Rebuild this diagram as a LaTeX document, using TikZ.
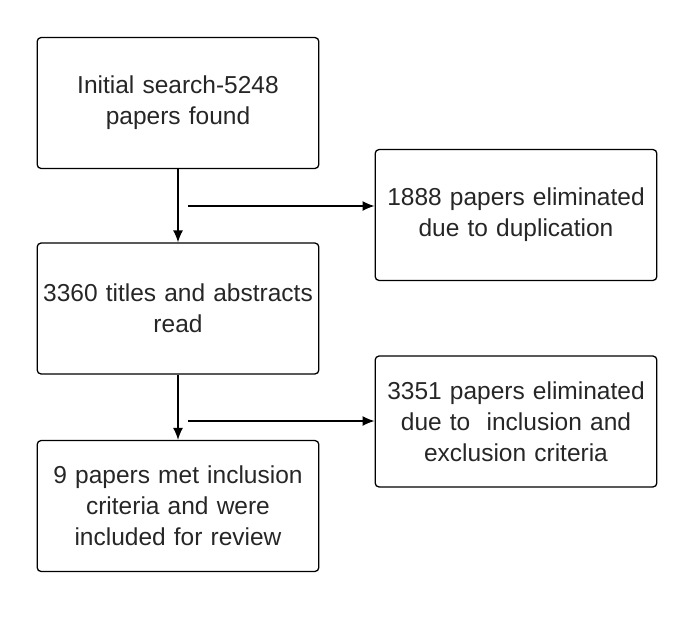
\documentclass[tikz,border=0pt]{standalone}
\usepackage{fontspec}
\setmainfont{Liberation Sans}
\usepackage{xcolor}
\usetikzlibrary{arrows.meta, positioning}
\tikzstyle{stage} = [rectangle, draw, line width=1.3pt, minimum width=281pt, minimum height=131pt, text width=275pt, align=center, rounded corners=4pt, font=\fontsize{24.5}{31}\selectfont, text=black!85]
\tikzstyle{arrow} = [-{Latex[length=12pt,width=10pt]}, line width=1.3pt]

\begin{document}
\begin{tikzpicture}[x=1pt, y=-1pt]
\useasboundingbox (0,0) rectangle (694,638);

% Left column - main flow
\node[stage] (search) at (178,103) {Initial search-5248\\papers found};
\node[stage] (read) at (178,308.5) {3360 titles and abstracts\\read};
\node[stage] (review) at (178,506) {9 papers met inclusion\\criteria and were\\included for review};

% Right column - eliminated papers
\node[stage] (dupl) at (516,215) {1888 papers eliminated\\due to duplication};
\node[stage] (criteria) at (516,421.5) {3351 papers eliminated\\due to\ \ inclusion and\\exclusion criteria};

% Side branch starts
\coordinate (tap1) at (188,206);
\coordinate (tap2) at (188,421);

% Main flow arrows
\draw[arrow] (search) -- (read);
\draw[arrow] (read) -- (review);

% Side arrows
\draw[arrow] (tap1) -- (tap1 -| dupl.west);
\draw[arrow] (tap2) -- (tap2 -| criteria.west);

\end{tikzpicture}
\end{document}
